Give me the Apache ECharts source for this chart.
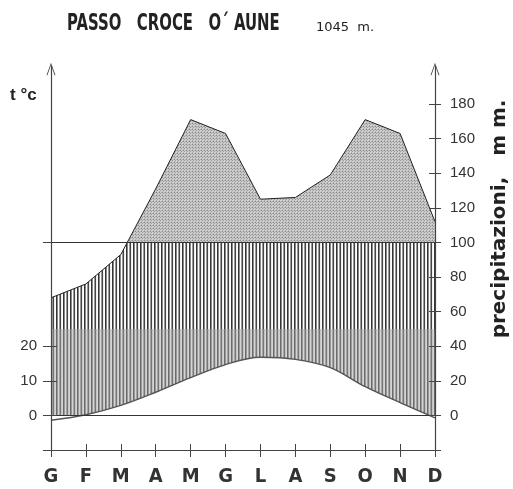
<!DOCTYPE html>
<html>
<head>
<meta charset="utf-8">
<script src="https://cdn.jsdelivr.net/npm/echarts@6/dist/echarts.min.js"></script>
<style>
  html, body { margin: 0; background: #fff; }
  #main { width: 513px; height: 489px; }
</style>
</head>
<body>
<div id="main"></div>
<script>
const mesi = ['G', 'F', 'M', 'A', 'M', 'G', 'L', 'A', 'S', 'O', 'N', 'D'];
const precipitazioni = [68, 76, 93, 131, 171, 163, 125, 126, 139, 171, 163, 112]; // mm
const temperature = [-1.4, 0.2, 2.9, 6.7, 10.9, 14.7, 16.8, 16.2, 13.8, 8.3, 3.7, -0.7]; // °C
const tickPrec = [0, 20, 40, 60, 80, 100, 120, 140, 160, 180];
const tickTemp = [0, 10, 20];
const sogliaUmido = 100;

const maxPrec = 202;
const minPrec = -20;

const fontStretto = '"DejaVu Sans Condensed", "Liberation Sans Narrow", "Liberation Sans", sans-serif';

// retini
function retino(w, h, draw) {
  const c = document.createElement('canvas');
  c.width = w; c.height = h;
  draw(c.getContext('2d'));
  return { image: c, repeat: 'repeat' };
}
function righe(cols) {
  return retino(cols.length, 2, function (ctx) {
    cols.forEach(function (col, i) {
      ctx.fillStyle = col;
      ctx.fillRect(i, 0, 1, 2);
    });
  });
}
const puntinato = retino(3, 3, function (ctx) {
  const mappa = [
    '#8a8a8a', '#cccccc', '#b0b0b0',
    '#cccccc', '#9a9a9a', '#cccccc',
    '#b4b4b4', '#cccccc', '#d4d4d4'
  ];
  mappa.forEach(function (col, i) {
    ctx.fillStyle = col;
    ctx.fillRect(i % 3, Math.floor(i / 3), 1, 1);
  });
});
const righeChiare = righe(['#333', '#888', '#fff', '#999', '#444', '#eee', '#fff']);
const righeScure = righe(['#6a6a6a', '#999', '#d4d4d4', '#a4a4a4', '#777', '#c4c4c4', '#d4d4d4']);

const freccia = 'path://M0,14 L5,0 L10,14 L9,14 L5,2.5 L1,14 Z';

const chart = echarts.init(document.getElementById('main'));

const tickStyle = { color: '#444', width: 1 };

chart.setOption({
  animation: false,
  grid: { left: 51, right: 78, top: 66, bottom: 39 },
  xAxis: [{
    type: 'category',
    data: mesi,
    boundaryGap: false,
    z: 6,
    axisLine: { onZero: false, lineStyle: { color: '#444', width: 1.2 } },
    axisTick: { length: 7, interval: 0, lineStyle: tickStyle },
    axisLabel: {
      interval: 0,
      margin: 17,
      fontFamily: fontStretto,
      fontWeight: 'bold',
      fontSize: 20,
      color: '#333'
    },
    splitLine: { show: false }
  }, {
    type: 'category',
    data: mesi,
    boundaryGap: false,
    position: 'bottom',
    z: 6,
    axisLine: { show: false, onZero: false },
    axisTick: { inside: true, length: 6, interval: 0, lineStyle: tickStyle },
    axisLabel: { show: false },
    splitLine: { show: false }
  }],
  yAxis: [{
    type: 'value',
    position: 'right',
    min: minPrec,
    max: maxPrec,
    z: 6,
    axisLine: {
      show: true,
      symbol: ['none', freccia],
      symbolSize: [9, 15],
      symbolOffset: [0, -3],
      lineStyle: { color: '#444', width: 1.2 }
    },
    axisTick: { show: true, length: 6, customValues: [minPrec].concat(tickPrec), lineStyle: tickStyle },
    axisLabel: {
      customValues: tickPrec,
      margin: 15,
      fontFamily: 'Liberation Sans',
      fontSize: 15,
      color: '#333'
    },
    splitLine: { show: false }
  }, {
    type: 'value',
    position: 'right',
    min: minPrec,
    max: maxPrec,
    z: 6,
    axisLine: { show: false },
    axisTick: { show: true, inside: true, length: 6, customValues: tickPrec, lineStyle: tickStyle },
    axisLabel: { show: false },
    splitLine: { show: false }
  }, {
    type: 'value',
    position: 'left',
    min: minPrec / 2,
    max: maxPrec / 2,
    z: 6,
    axisLine: {
      show: true,
      symbol: ['none', freccia],
      symbolSize: [9, 15],
      symbolOffset: [0, -3],
      lineStyle: { color: '#444', width: 1.2 }
    },
    axisTick: { show: true, length: 8, customValues: [minPrec / 2, 0, 10, 20, sogliaUmido / 2], lineStyle: tickStyle },
    axisLabel: {
      customValues: tickTemp,
      margin: 14,
      fontFamily: 'Liberation Sans',
      fontSize: 15,
      color: '#333'
    },
    splitLine: { show: false }
  }, {
    type: 'value',
    position: 'left',
    min: minPrec / 2,
    max: maxPrec / 2,
    z: 6,
    axisLine: { show: false },
    axisTick: { show: true, inside: true, length: 6, customValues: tickTemp, lineStyle: tickStyle },
    axisLabel: { show: false },
    splitLine: { show: false }
  }],
  series: [{
    name: 'fondo',
    type: 'line',
    data: precipitazioni,
    yAxisIndex: 0,
    symbol: 'none',
    silent: true,
    lineStyle: { opacity: 0 },
    z: 1,
    markArea: {
      silent: true,
      data: [
        [{ yAxis: sogliaUmido, itemStyle: { color: puntinato } }, { yAxis: maxPrec }],
        [{ yAxis: sogliaUmido / 2, itemStyle: { color: righeChiare } }, { yAxis: sogliaUmido }],
        [{ yAxis: 0, itemStyle: { color: righeScure } }, { yAxis: sogliaUmido / 2 }]
      ]
    }
  }, {
    name: 'precipitazioni',
    type: 'line',
    data: precipitazioni,
    yAxisIndex: 0,
    symbol: 'none',
    silent: true,
    lineStyle: { color: '#222', width: 1 },
    areaStyle: { origin: 'end', color: '#fff', opacity: 1 },
    z: 2
  }, {
    name: 'temperatura',
    type: 'line',
    data: temperature,
    yAxisIndex: 2,
    smooth: 0.35,
    symbol: 'none',
    silent: true,
    lineStyle: { color: '#555', width: 1.4 },
    areaStyle: { origin: 'start', color: '#fff', opacity: 1 },
    z: 3
  }, {
    name: 'linee',
    type: 'line',
    data: precipitazioni,
    yAxisIndex: 0,
    symbol: 'none',
    silent: true,
    lineStyle: { opacity: 0 },
    z: 4,
    markLine: {
      silent: true,
      symbol: 'none',
      label: { show: false },
      lineStyle: { type: 'solid', color: '#333', width: 1 },
      data: [{ yAxis: 0 }, { yAxis: sogliaUmido }]
    }
  }],
  graphic: [{
    type: 'text',
    x: 67,
    y: 13,
    scaleX: 0.72,
    style: {
      text: 'PASSO   CROCE   O´ AUNE',
      font: 'bold 23px ' + fontStretto,
      fill: '#222',
      verticalAlign: 'top'
    }
  }, {
    type: 'text',
    x: 316,
    y: 21,
    style: { text: '1045  m.', font: '13px "DejaVu Sans"', fill: '#222', verticalAlign: 'top' }
  }, {
    type: 'text',
    x: 10,
    y: 87,
    style: { text: 't °c', font: 'bold 17px "Liberation Sans"', fill: '#222', verticalAlign: 'top' }
  }, {
    type: 'text',
    x: 500,
    y: 219,
    rotation: Math.PI / 2,
    style: {
      text: 'precipitazioni,   m m.',
      font: 'bold 20px "DejaVu Sans"',
      fill: '#222',
      align: 'center',
      verticalAlign: 'middle'
    }
  }]
});
</script>
</body>
</html>
